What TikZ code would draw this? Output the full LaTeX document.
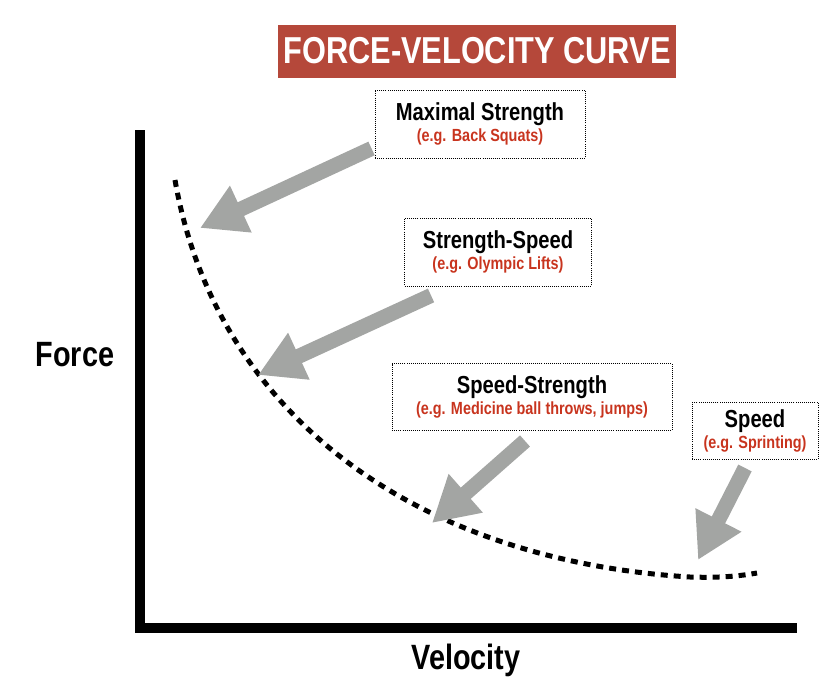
\documentclass[tikz,border=0pt]{standalone}
\usepackage{fontspec}
\setmainfont{Liberation Sans}[FakeStretch=0.82]
\usetikzlibrary{arrows.meta}
\definecolor{titlered}{HTML}{B5483A}
\definecolor{examplered}{HTML}{C8341E}
\definecolor{arrowgray}{HTML}{A3A5A3}
\begin{document}
\begin{tikzpicture}[x=0.03cm,y=-0.03cm,
	exbox/.style={draw,densely dotted,thick,align=center,inner sep=6pt},
	big/.style={line width=15*0.03cm,arrowgray,-{Triangle[width=1.45cm,length=1.35cm]}}]
	\useasboundingbox (0,0) rectangle (835,692);
	% title
	\node[fill=titlered,text=white,font=\bfseries\fontsize{32}{34}\selectfont,minimum width=398*0.03cm,minimum height=53*0.03cm] (title) at (477,51) {FORCE-VELOCITY CURVE};
	% axes
	\draw[line width=10*0.03cm] (140,130) -- (140,628) -- (797,628);
	\node[font=\bfseries\fontsize{30}{32}\selectfont] (force) at (75,355) {Force};
	\node[font=\bfseries\fontsize{30}{32}\selectfont] (velocity) at (466,660) {Velocity};
	% curve
	\draw[line width=5*0.03cm,dash pattern=on 7*0.03cm off 6*0.03cm] (175,180) .. controls (215,410) and (410,560) .. (690,577) .. controls (720,578) and (740,576) .. (757,573);
	% boxes
	\node[exbox,minimum width=210*0.03cm,minimum height=68*0.03cm] (maxstr) at (480,124) {{\bfseries\fontsize{21}{24}\selectfont Maximal Strength}\\[1pt]{\bfseries\color{examplered}\fontsize{15}{17}\selectfont (e.g. Back Squats)}};
	\node[exbox,minimum width=187*0.03cm,minimum height=68*0.03cm] (strspeed) at (498,252) {{\bfseries\fontsize{21}{24}\selectfont Strength-Speed}\\[1pt]{\bfseries\color{examplered}\fontsize{15}{17}\selectfont (e.g. Olympic Lifts)}};
	\node[exbox,minimum width=280*0.03cm,minimum height=67*0.03cm] (speedstr) at (532,397) {{\bfseries\fontsize{21}{24}\selectfont Speed-Strength}\\[1pt]{\bfseries\color{examplered}\fontsize{15}{17}\selectfont (e.g. Medicine ball throws, jumps)}};
	\node[exbox,minimum width=126*0.03cm,minimum height=57*0.03cm] (speed) at (755,431) {{\bfseries\fontsize{21}{24}\selectfont Speed}\\[1pt]{\bfseries\color{examplered}\fontsize{15}{17}\selectfont (e.g. Sprinting)}};
	% arrows
	\coordinate (a1) at (200,228);
	\coordinate (a2) at (258,375);
	\coordinate (a3) at (432,523);
	\coordinate (a4) at (698,560);
	\draw[big] (maxstr.south west)++(-3,-10) -- (a1);
	\draw[big] (strspeed.south west)++(27,9) -- (a2);
	\draw[big] (speedstr.south)++(-7,10) -- (a3);
	\draw[big] (speed.south)++(-10,8) -- (a4);
\end{tikzpicture}
\end{document}
